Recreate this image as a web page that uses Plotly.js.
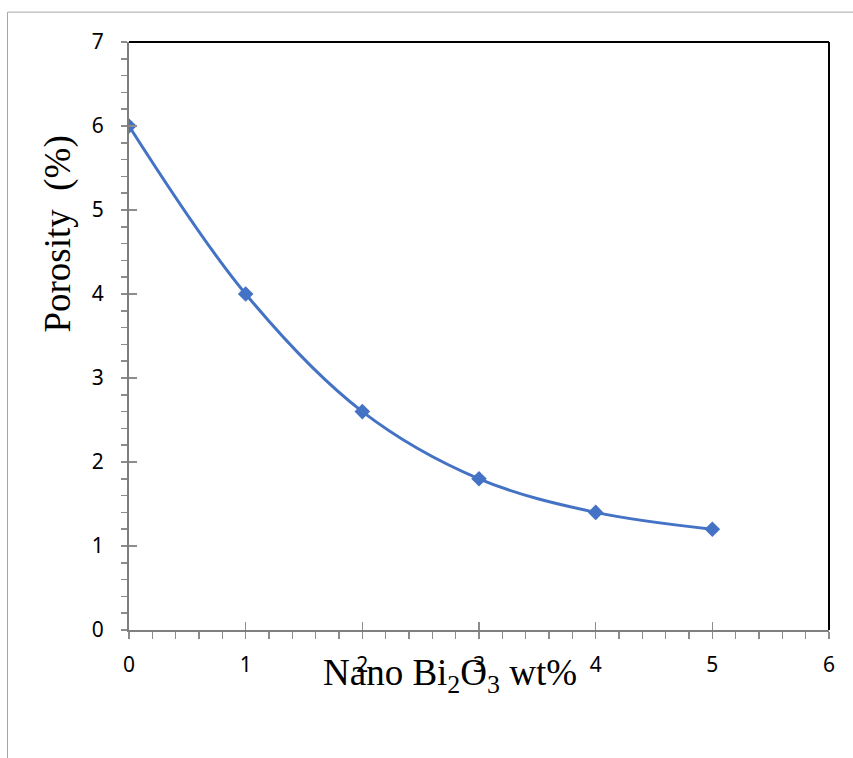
<!DOCTYPE html>
<html>
<head>
<meta charset="utf-8">
<script src="https://cdn.plot.ly/plotly-3.0.1.min.js"></script>
<style>
  html, body { margin: 0; padding: 0; background: #fff; }
  #chart { width: 853px; height: 758px; }
</style>
</head>
<body>
<div id="chart"></div>
<script>
// Data
const bi2o3Wt = [0, 1, 2, 3, 4, 5];
const porosity = [6, 4, 2.6, 1.8, 1.4, 1.2];
const xTitle = 'Nano Bi<sub>2</sub>O<sub>3</sub> wt%';
const yTitle = 'Porosity  (%)';

const axisGrey = '#7f7f7f';
const tickGrey = '#8c8c8c';
const titleFont = { family: 'Liberation Serif, Times New Roman, serif', size: 37, color: '#000' };

function tickFont() {
  return { family: 'Noto Sans, Open Sans, sans-serif', size: 21, color: '#000' };
}

const traces = [
  {
    x: bi2o3Wt,
    y: porosity,
    type: 'scatter',
    mode: 'lines+markers',
    line: { color: '#4472C4', width: 3, shape: 'spline', smoothing: 1 },
    marker: { symbol: 'diamond', size: 12, color: '#4472C4' },
    hoverinfo: 'x+y',
    showlegend: false
  },
  { x: [], y: [], xaxis: 'x2', yaxis: 'y2', type: 'scatter', mode: 'markers', showlegend: false, hoverinfo: 'skip' }
];

const layout = {
  width: 853,
  height: 758,
  margin: { l: 129, r: 24, t: 42, b: 128, pad: 0 },
  paper_bgcolor: '#fff',
  plot_bgcolor: '#fff',
  showlegend: false,
  xaxis: {
    range: [0, 6], dtick: 1, tick0: 0,
    showgrid: false, zeroline: false,
    showline: true, linecolor: axisGrey, linewidth: 2,
    ticks: 'outside', ticklen: 7, tickwidth: 1.5, tickcolor: tickGrey,
    minor: { ticks: 'outside', dtick: 0.2, ticklen: 7, tickwidth: 1.5, tickcolor: tickGrey, showgrid: false },
    tickfont: tickFont(), ticklabelstandoff: 8,
    fixedrange: true
  },
  yaxis: {
    range: [0, 7], dtick: 1, tick0: 0,
    showgrid: false, zeroline: false,
    showline: true, linecolor: axisGrey, linewidth: 2,
    ticks: 'outside', ticklen: 6, tickwidth: 1.5, tickcolor: tickGrey,
    minor: { ticks: 'outside', dtick: 0.2, ticklen: 6, tickwidth: 1.5, tickcolor: tickGrey, showgrid: false },
    tickfont: tickFont(), ticklabelstandoff: 13,
    fixedrange: true
  },
  xaxis2: {
    overlaying: 'x', anchor: 'y2', side: 'bottom',
    range: [0, 6], dtick: 1, tick0: 0,
    showgrid: false, zeroline: false, showline: false,
    ticks: 'inside', ticklen: 8, tickwidth: 1.5, tickcolor: tickGrey,
    showticklabels: false, fixedrange: true
  },
  yaxis2: {
    overlaying: 'y', anchor: 'x2', side: 'left',
    range: [0, 7], dtick: 1, tick0: 0,
    showgrid: false, zeroline: false, showline: false,
    ticks: 'inside', ticklen: 8, tickwidth: 1.5, tickcolor: tickGrey,
    showticklabels: false, fixedrange: true
  },
  shapes: [
    { type: 'line', xref: 'paper', yref: 'paper', x0: 0, x1: 1, y0: 1, y1: 1, line: { color: '#000', width: 2 } },
    { type: 'line', xref: 'paper', yref: 'paper', x0: 1, x1: 1, y0: 0, y1: 1, line: { color: '#000', width: 2 } },
    { type: 'line', xref: 'paper', yref: 'paper', x0: -0.1736, x1: 1.06, y0: 1.0508, y1: 1.0508, line: { color: '#a6a6a6', width: 1 } },
    { type: 'line', xref: 'paper', yref: 'paper', x0: -0.1736, x1: -0.1736, y0: -0.3, y1: 1.0508, line: { color: '#a6a6a6', width: 1 } }
  ],
  annotations: [
    {
      text: xTitle, xref: 'paper', yref: 'paper',
      x: 0.459, y: -0.078, xanchor: 'center', yanchor: 'middle',
      showarrow: false, font: titleFont
    },
    {
      text: yTitle, xref: 'paper', yref: 'paper',
      x: -0.101, y: 0.673, xanchor: 'center', yanchor: 'middle',
      textangle: -90, showarrow: false, font: titleFont
    }
  ]
};

Plotly.newPlot('chart', traces, layout, { displayModeBar: false, staticPlot: true });
</script>
</body>
</html>
